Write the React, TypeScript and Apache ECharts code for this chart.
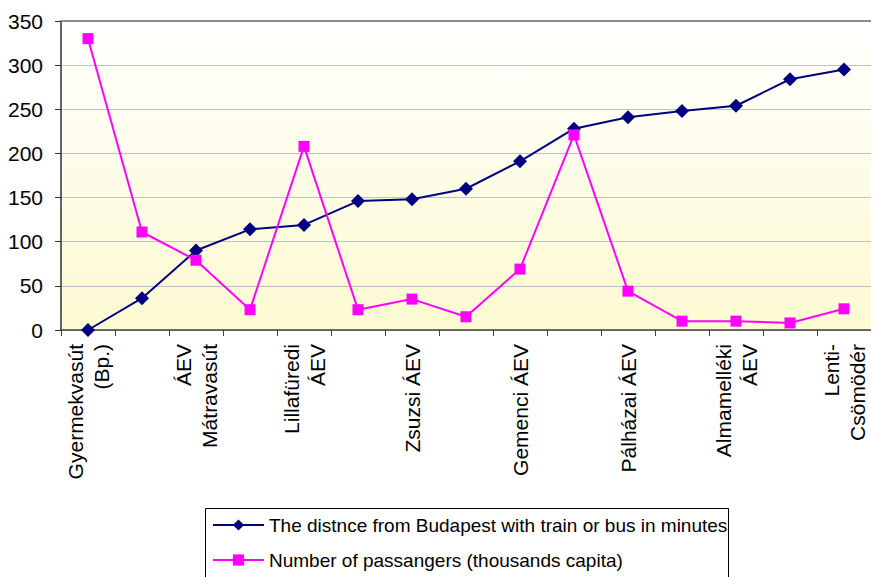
import React, { useEffect, useRef } from "react";
import * as echarts from "echarts";

const categories = [
  "Gyermekvasút\n(Bp.)",
  "Királyréti ÁEV",
  "ÁEV\nMátravasút",
  "Szilvásváradi ÁEV",
  "Lillafüredi\nÁEV",
  "Felsőtárkányi ÁEV",
  "Zsuzsi ÁEV",
  "Nyírvidéki kisvasút",
  "Gemenci ÁEV",
  "Kaszói ÁEV",
  "Pálházai ÁEV",
  "Mesztegnyői ÁEV",
  "Almamelléki\nÁEV",
  "Balatonfenyvesi GV",
  "Lenti-\nCsömödér",
];

const distanceMinutes = [0, 36, 90, 114, 119, 146, 148, 160, 191, 228, 241, 248, 254, 284, 295];
const passengersThousands = [330, 111, 79, 23, 208, 23, 35, 15, 69, 221, 44, 10, 10, 8, 24];

const seriesNames = [
  "The distnce from Budapest with train or bus in minutes",
  "Number of passangers (thousands capita)",
];

const FONT = 'Arial, "Liberation Sans", sans-serif';

export default function App() {
  const ref = useRef<HTMLDivElement>(null);
  useEffect(() => {
    if (!ref.current) return;
    const chart = echarts.init(ref.current, null, { renderer: "svg" });
    chart.setOption({
      animation: false,
      backgroundColor: "#ffffff",
      textStyle: { fontFamily: FONT },
      grid: {
        left: 61,
        top: 21,
        right: 0,
        bottom: 247,
        show: true,
        borderWidth: 0,
        backgroundColor: new echarts.graphic.LinearGradient(0, 0, 0, 1, [
          { offset: 0, color: "#ffffff" },
          { offset: 1, color: "#fcfad0" },
        ]),
      },
      graphic: [
        {
          type: "rect",
          shape: { x: 205.5, y: 508.5, width: 523, height: 100 },
          style: { fill: "none", stroke: "#000000", lineWidth: 1 },
          silent: true,
        },
      ],
      legend: {
        orient: "vertical",
        left: 212,
        top: 514,
        padding: 0,
        itemWidth: 51,
        itemHeight: 14,
        itemGap: 13,
        textStyle: { fontFamily: FONT, fontSize: 19, color: "#000000", lineHeight: 22 },
        data: seriesNames,
      },
      xAxis: [
        {
          type: "category",
          data: categories,
          boundaryGap: true,
          axisLine: { lineStyle: { color: "#404040", width: 1.5 } },
          axisTick: { show: true, interval: 0, length: 6, lineStyle: { color: "#404040" } },
          axisLabel: {
            interval: 1,
            rotate: 90,
            margin: 14,
            fontSize: 21,
            lineHeight: 26,
            color: "#000000",
            fontFamily: FONT,
          },
        },
        {
          type: "category",
          position: "top",
          data: categories,
          axisLine: { show: true, lineStyle: { color: "#8c8c8c", width: 2 } },
          axisTick: { show: false },
          axisLabel: { show: false },
        },
      ],
      yAxis: {
        type: "value",
        min: 0,
        max: 350,
        interval: 50,
        axisLine: { show: true, lineStyle: { color: "#303030", width: 1.5 } },
        axisTick: { show: true, length: 6, lineStyle: { color: "#303030" } },
        axisLabel: { fontSize: 21, color: "#000000", margin: 18, fontFamily: FONT },
        splitLine: { show: true, lineStyle: { color: "#c0c0c0", width: 1 } },
      },
      series: [
        {
          name: seriesNames[0],
          type: "line",
          data: distanceMinutes,
          symbol: "diamond",
          symbolSize: 14,
          itemStyle: { color: "#000080" },
          lineStyle: { color: "#000080", width: 2 },
          z: 3,
        },
        {
          name: seriesNames[1],
          type: "line",
          data: passengersThousands,
          symbol: "rect",
          symbolSize: 11,
          itemStyle: { color: "#ff00ff" },
          lineStyle: { color: "#ff00ff", width: 2 },
          z: 4,
        },
      ],
    });
    return () => chart.dispose();
  }, []);
  return (
    <div
      ref={ref}
      style={{ position: "fixed", left: 0, top: 0, width: 871, height: 577 }}
    />
  );
}
